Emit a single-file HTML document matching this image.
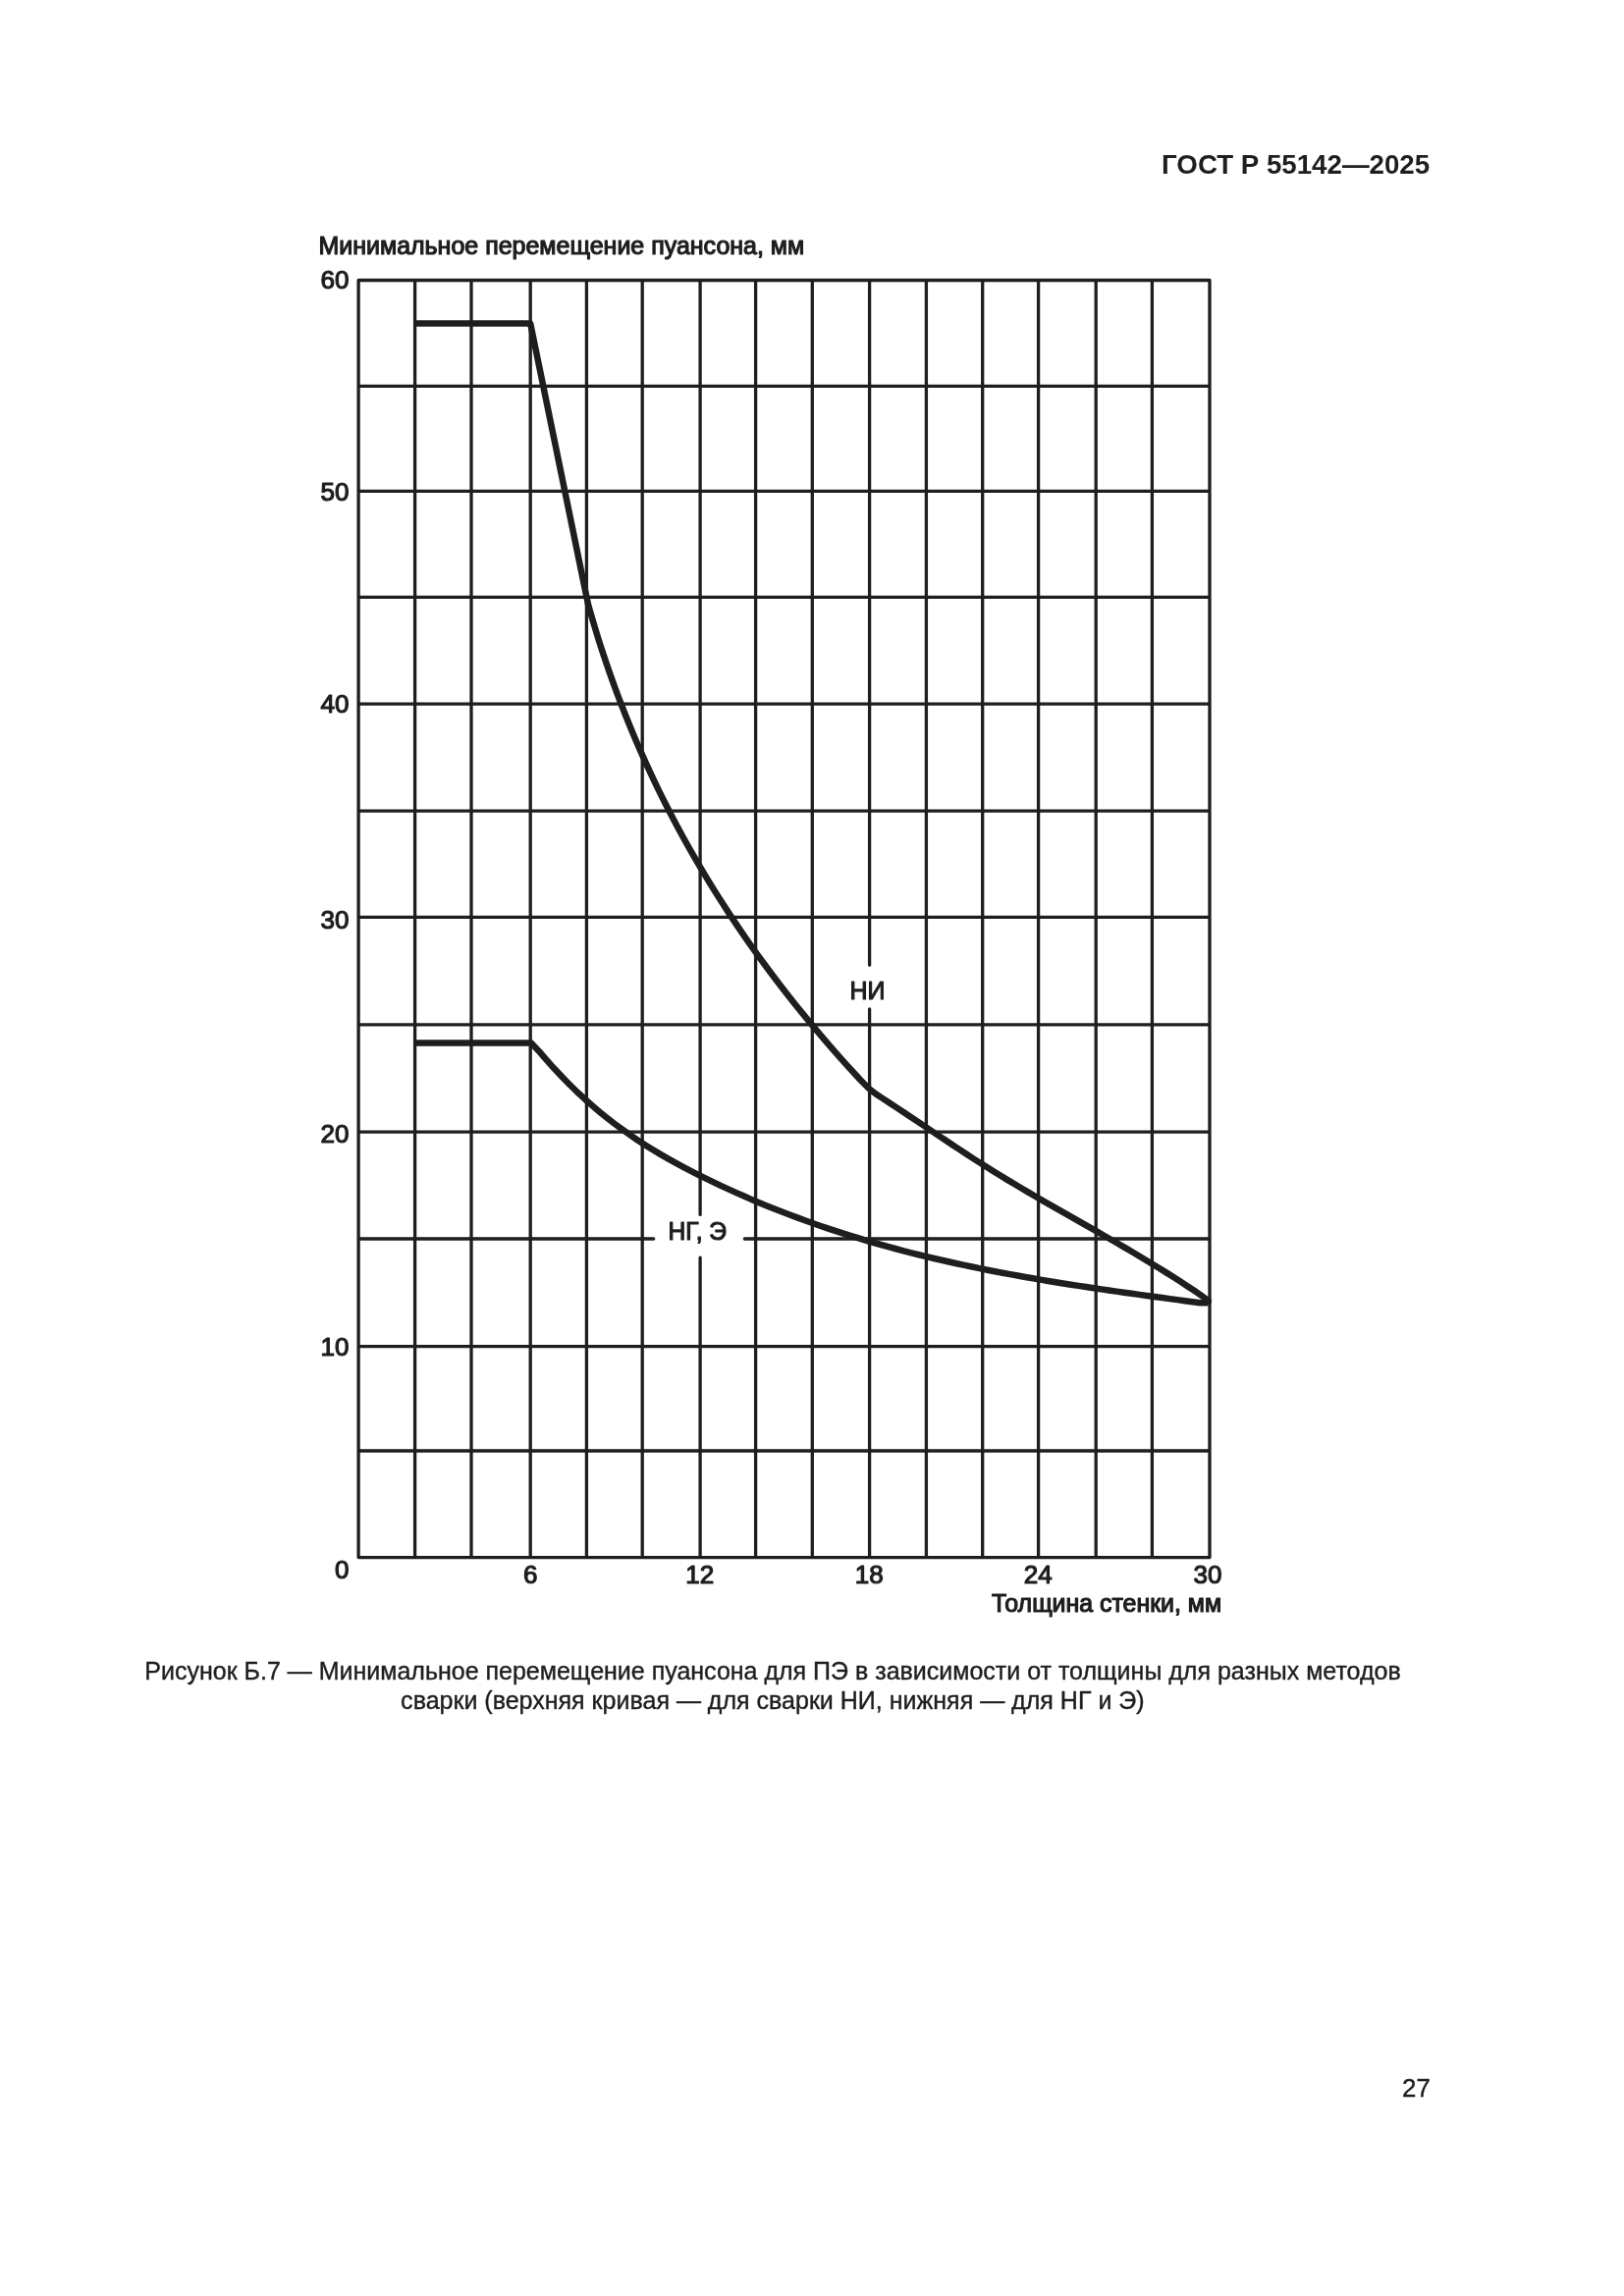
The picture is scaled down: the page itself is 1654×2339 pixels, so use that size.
<!DOCTYPE html>
<html><head><meta charset="utf-8"><style>
html,body{margin:0;padding:0;background:#fff;}
svg{display:block;will-change:transform;}
text{font-family:"Liberation Sans", sans-serif;fill:#1e1e1e;}
</style></head><body>
<svg width="1654" height="2339" viewBox="0 0 1654 2339">
<rect width="1654" height="2339" fill="#fff"/>
<path d="M365.1 285.5V1586.6 M422.6 285.5V1586.6 M480.0 285.5V1586.6 M540.2 285.5V1586.6 M597.4 285.5V1586.6 M654.2 285.5V1586.6 M713.1 285.5V1237.4 M713.1 1281.2V1586.6 M769.6 285.5V1586.6 M827.3 285.5V1586.6 M885.6 285.5V983.2 M885.6 1027.9V1586.6 M943.4 285.5V1586.6 M1000.7 285.5V1586.6 M1057.6 285.5V1586.6 M1116.2 285.5V1586.6 M1173.4 285.5V1586.6 M1232.0 285.5V1586.6 M365.1 285.5H1232.0 M365.1 393.4H1232.0 M365.1 500.3H1232.0 M365.1 608.4H1232.0 M365.1 717.2H1232.0 M365.1 826.2H1232.0 M365.1 934.3H1232.0 M365.1 1043.8H1232.0 M365.1 1153.1H1232.0 M365.1 1262.0H665.7 M758.4 1262.0H1232.0 M365.1 1371.6H1232.0 M365.1 1478.0H1232.0 M365.1 1586.6H1232.0" stroke="#1e1e1e" stroke-width="3.3" fill="none" stroke-linecap="round"/>
<path d="M422.60 329.60 L540.20 329.60 L597.50 608.50 L599.33 616.98 L601.76 625.47 L604.25 633.95 L606.82 642.43 L609.45 650.92 L612.16 659.40 L614.94 667.88 L617.80 676.36 L620.73 684.85 L623.74 693.33 L626.82 701.81 L629.98 710.30 L633.22 718.78 L636.54 727.26 L639.94 735.75 L643.43 744.23 L646.99 752.71 L650.64 761.19 L654.38 769.68 L658.20 778.16 L662.11 786.64 L666.10 795.13 L670.18 803.61 L674.36 812.09 L678.62 820.58 L682.98 829.06 L687.43 837.54 L691.97 846.03 L696.61 854.51 L701.34 862.99 L706.17 871.47 L711.09 879.96 L716.12 888.44 L721.24 896.92 L726.47 905.41 L731.80 913.89 L737.22 922.37 L742.76 930.86 L748.39 939.34 L754.14 947.82 L759.98 956.31 L765.94 964.79 L772.00 973.27 L778.18 981.75 L784.46 990.24 L790.85 998.72 L797.36 1007.20 L803.98 1015.69 L810.71 1024.17 L817.56 1032.65 L824.53 1041.14 L831.61 1049.62 L838.81 1058.10 L846.13 1066.58 L853.57 1075.07 L861.13 1083.55 L868.81 1092.03 L876.62 1100.52 L885.10 1109.00 L892.14 1114.51 L899.18 1119.12 L906.22 1123.74 L913.26 1128.38 L920.29 1133.04 L927.33 1137.71 L934.37 1142.41 L941.41 1147.13 L948.45 1151.86 L955.49 1156.58 L962.53 1161.29 L969.57 1165.99 L976.60 1170.65 L983.64 1175.28 L990.68 1179.86 L997.72 1184.39 L1004.76 1188.85 L1011.80 1193.25 L1018.84 1197.58 L1025.88 1201.86 L1032.91 1206.09 L1039.95 1210.27 L1046.99 1214.41 L1054.03 1218.51 L1061.07 1222.59 L1068.11 1226.64 L1075.15 1230.67 L1082.19 1234.68 L1089.22 1238.68 L1096.26 1242.67 L1103.30 1246.67 L1110.34 1250.67 L1117.38 1254.68 L1124.42 1258.70 L1131.46 1262.74 L1138.50 1266.81 L1145.53 1270.90 L1152.57 1275.04 L1159.61 1279.21 L1166.65 1283.42 L1173.69 1287.68 L1180.73 1292.00 L1187.77 1296.38 L1194.81 1300.82 L1201.84 1305.33 L1208.88 1309.92 L1215.92 1314.58 L1222.96 1319.33 L1230.00 1324.50" stroke="#1e1e1e" stroke-width="6.5" fill="none" stroke-linejoin="round" stroke-linecap="butt"/>
<path d="M422.60 1062.50 L540.20 1062.50 L541.00 1062.50 L548.74 1070.66 L556.48 1079.67 L564.22 1088.30 L571.97 1096.56 L579.71 1104.46 L587.45 1112.01 L595.19 1119.23 L602.93 1126.12 L610.67 1132.71 L618.42 1138.99 L626.16 1144.99 L633.90 1150.72 L641.64 1156.20 L649.38 1161.44 L657.12 1166.46 L664.87 1171.28 L672.61 1175.91 L680.35 1180.37 L688.09 1184.67 L695.83 1188.83 L703.57 1192.87 L711.31 1196.80 L719.06 1200.64 L726.80 1204.40 L734.54 1208.07 L742.28 1211.66 L750.02 1215.16 L757.76 1218.59 L765.51 1221.93 L773.25 1225.20 L780.99 1228.39 L788.73 1231.51 L796.47 1234.55 L804.21 1237.53 L811.96 1240.42 L819.70 1243.25 L827.44 1246.02 L835.18 1248.71 L842.92 1251.34 L850.66 1253.90 L858.40 1256.40 L866.15 1258.84 L873.89 1261.22 L881.63 1263.54 L889.37 1265.80 L897.11 1268.00 L904.85 1270.15 L912.60 1272.25 L920.34 1274.29 L928.08 1276.29 L935.82 1278.23 L943.56 1280.12 L951.30 1281.97 L959.04 1283.77 L966.79 1285.53 L974.53 1287.24 L982.27 1288.91 L990.01 1290.54 L997.75 1292.13 L1005.49 1293.69 L1013.24 1295.21 L1020.98 1296.69 L1028.72 1298.14 L1036.46 1299.55 L1044.20 1300.94 L1051.94 1302.29 L1059.69 1303.62 L1067.43 1304.92 L1075.17 1306.19 L1082.91 1307.44 L1090.65 1308.67 L1098.39 1309.87 L1106.13 1311.05 L1113.88 1312.22 L1121.62 1313.37 L1129.36 1314.50 L1137.10 1315.61 L1144.84 1316.71 L1152.58 1317.80 L1160.33 1318.88 L1168.07 1319.94 L1175.81 1321.00 L1183.55 1322.05 L1191.29 1323.10 L1199.03 1324.14 L1206.78 1325.18 L1214.52 1326.22 L1222.26 1327.25 L1230.00 1327.30" stroke="#1e1e1e" stroke-width="6.5" fill="none" stroke-linejoin="round" stroke-linecap="butt"/>
<circle cx="1230.00" cy="1325.50" r="4" fill="#1e1e1e"/>
<text x="1183.06" y="177.20" font-size="27" font-weight="bold" textLength="273.11" lengthAdjust="spacingAndGlyphs">ГОСТ Р 55142—2025</text>
<text x="324.45" y="259.40" font-size="26" font-weight="normal" textLength="494.77" lengthAdjust="spacingAndGlyphs" stroke="#1e1e1e" stroke-width="1.2" stroke-linejoin="round">Минимальное перемещение пуансона, мм</text>
<text x="326.50" y="294.15" font-size="26" font-weight="normal" textLength="28.92" lengthAdjust="spacingAndGlyphs" stroke="#1e1e1e" stroke-width="1.2" stroke-linejoin="round">60</text>
<text x="326.50" y="510.00" font-size="26" font-weight="normal" textLength="28.92" lengthAdjust="spacingAndGlyphs" stroke="#1e1e1e" stroke-width="1.2" stroke-linejoin="round">50</text>
<text x="326.50" y="725.50" font-size="26" font-weight="normal" textLength="28.92" lengthAdjust="spacingAndGlyphs" stroke="#1e1e1e" stroke-width="1.2" stroke-linejoin="round">40</text>
<text x="326.50" y="946.40" font-size="26" font-weight="normal" textLength="28.92" lengthAdjust="spacingAndGlyphs" stroke="#1e1e1e" stroke-width="1.2" stroke-linejoin="round">30</text>
<text x="326.50" y="1163.90" font-size="26" font-weight="normal" textLength="28.92" lengthAdjust="spacingAndGlyphs" stroke="#1e1e1e" stroke-width="1.2" stroke-linejoin="round">20</text>
<text x="326.50" y="1380.70" font-size="26" font-weight="normal" textLength="28.92" lengthAdjust="spacingAndGlyphs" stroke="#1e1e1e" stroke-width="1.2" stroke-linejoin="round">10</text>
<text x="340.96" y="1607.60" font-size="26" font-weight="normal" textLength="14.46" lengthAdjust="spacingAndGlyphs" stroke="#1e1e1e" stroke-width="1.2" stroke-linejoin="round">0</text>
<text x="532.88" y="1613.40" font-size="26" font-weight="normal" textLength="14.46" lengthAdjust="spacingAndGlyphs" stroke="#1e1e1e" stroke-width="1.2" stroke-linejoin="round">6</text>
<text x="698.30" y="1613.40" font-size="26" font-weight="normal" textLength="28.92" lengthAdjust="spacingAndGlyphs" stroke="#1e1e1e" stroke-width="1.2" stroke-linejoin="round">12</text>
<text x="870.71" y="1613.40" font-size="26" font-weight="normal" textLength="28.92" lengthAdjust="spacingAndGlyphs" stroke="#1e1e1e" stroke-width="1.2" stroke-linejoin="round">18</text>
<text x="1042.87" y="1613.40" font-size="26" font-weight="normal" textLength="28.92" lengthAdjust="spacingAndGlyphs" stroke="#1e1e1e" stroke-width="1.2" stroke-linejoin="round">24</text>
<text x="1215.55" y="1613.40" font-size="26" font-weight="normal" textLength="28.92" lengthAdjust="spacingAndGlyphs" stroke="#1e1e1e" stroke-width="1.2" stroke-linejoin="round">30</text>
<text x="1010.05" y="1642.00" font-size="25.5" font-weight="normal" textLength="234.05" lengthAdjust="spacingAndGlyphs" stroke="#1e1e1e" stroke-width="1.2" stroke-linejoin="round">Толщина стенки, мм</text>
<text x="865.56" y="1018.40" font-size="26" font-weight="normal" textLength="35.89" lengthAdjust="spacingAndGlyphs" stroke="#1e1e1e" stroke-width="1.2" stroke-linejoin="round">НИ</text>
<text x="680.58" y="1262.90" font-size="26" font-weight="normal" textLength="59.43" lengthAdjust="spacingAndGlyphs" stroke="#1e1e1e" stroke-width="1.2" stroke-linejoin="round">НГ, Э</text>
<text x="147.36" y="1710.70" font-size="25" font-weight="normal" textLength="1279.33" lengthAdjust="spacingAndGlyphs" stroke="#1e1e1e" stroke-width="0.4" stroke-linejoin="round">Рисунок Б.7 — Минимальное перемещение пуансона для ПЭ в зависимости от толщины для разных методов</text>
<text x="408.14" y="1740.70" font-size="25" font-weight="normal" textLength="757.51" lengthAdjust="spacingAndGlyphs" stroke="#1e1e1e" stroke-width="0.4" stroke-linejoin="round">сварки (верхняя кривая — для сварки НИ, нижняя — для НГ и Э)</text>
<text x="1428.10" y="2135.80" font-size="25" font-weight="normal" textLength="28.69" lengthAdjust="spacingAndGlyphs" stroke="#1e1e1e" stroke-width="0.4" stroke-linejoin="round">27</text>
</svg>
</body></html>
